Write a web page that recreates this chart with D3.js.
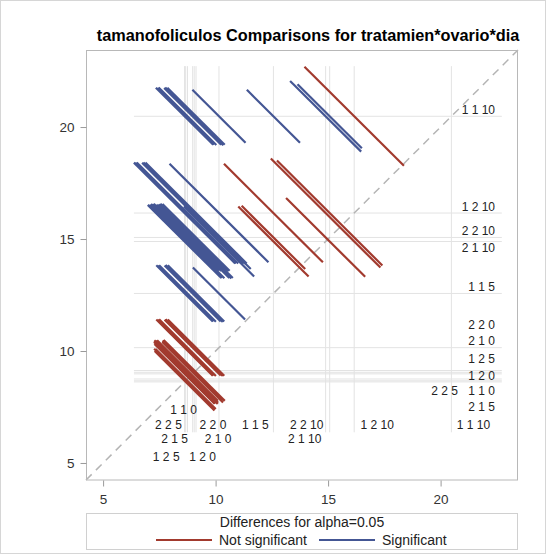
<!DOCTYPE html>
<html>
<head>
<meta charset="utf-8">
<script src="https://cdn.jsdelivr.net/npm/d3@7"></script>
<style>
  body { margin: 0; background: #fff; }
  svg { font-family: "Liberation Sans", Arial, sans-serif; }
</style>
</head>
<body>
<div id="viz"></div>
<script>
// level names (tratamien ovario dia), LS-means and standard errors
const levels = ["1 1 10", "1 2 10", "2 2 10", "2 1 10", "1 1 5", "2 2 0",
                "2 1 0", "1 2 5", "1 2 0", "2 2 5", "1 1 0", "2 1 5"];
const means = [20.48, 16.16, 15.07, 14.89, 12.57, 10.15,
               9.13, 9.05, 8.98, 8.75, 8.67, 8.62];
const stdErrs = [0.85, 2.04, 1.15, 1.33, 0.82, 0.82,
                 0.95, 0.97, 0.94, 0.96, 0.93, 0.95];
const tCrit = 2.0;
const tickValues = [5, 10, 15, 20];

// label placement tweaks (px) to keep labels from piling up
const rightShift = [0, 0, 0, 13, 0, -17, -23, -7, 8, 18, 16, 31];
const rightShiftX = [0, 0, 0, 0, 0, 0, 0, 0, 0, -37, 0, 0];
const bottomRow = [1, 1, 1, 2, 1, 1, 2, 3, 3, 1, 0, 2];
const bottomShift = [22, 23, -23, -21, -18, -6, 22, -28, 10, -19, -2, -10];

const red = "#A23A2E", blue = "#445694";

const svg = d3.select("#viz").append("svg")
    .attr("width", 549)
    .attr("height", 557);

const x = d3.scaleLinear().domain([4.24, 23.44]).range([86, 518]);
const y = d3.scaleLinear().domain([4.24, 23.44]).range([480, 50]);
const gridMin = 6.37, gridMax = 22.72;

// outer border
svg.append("rect")
    .attr("x", 0.5).attr("y", 0.5)
    .attr("width", 545).attr("height", 553)
    .attr("fill", "none").attr("stroke", "#d6d6d6");

// title
svg.append("text")
    .attr("x", 308).attr("y", 41)
    .attr("text-anchor", "middle")
    .attr("font-size", 16.3).attr("font-weight", "bold")
    .text("tamanofoliculos Comparisons for tratamien*ovario*dia");

const plot = svg.append("g");

// reference lines at each mean
plot.selectAll(".vgrid").data(means).join("line")
    .attr("x1", d => x(d)).attr("x2", d => x(d))
    .attr("y1", y(gridMax)).attr("y2", y(gridMin))
    .attr("stroke", "#e3e3e3");
plot.selectAll(".hgrid").data(means).join("line")
    .attr("y1", d => y(d)).attr("y2", d => y(d))
    .attr("x1", x(gridMin)).attr("x2", x(gridMax))
    .attr("stroke", "#e3e3e3");

// diagonal
plot.append("line")
    .attr("x1", x(4.24)).attr("y1", y(4.24))
    .attr("x2", x(23.44)).attr("y2", y(23.44))
    .attr("stroke", "#b4b4b4").attr("stroke-width", 1.5)
    .attr("stroke-dasharray", "8,6");

// pairwise comparison segments
const pairs = [];
for (let i = 0; i < levels.length; i++) {
  for (let j = i + 1; j < levels.length; j++) {
    const lo = Math.min(means[i], means[j]);
    const hi = Math.max(means[i], means[j]);
    const w = tCrit * Math.sqrt(stdErrs[i] ** 2 + stdErrs[j] ** 2);
    pairs.push({lo, hi, w, sig: (hi - lo) > w});
  }
}

plot.selectAll(".pair").data(pairs).join("line")
    .attr("x1", d => x(d.lo - d.w / 2)).attr("y1", d => y(d.hi + d.w / 2))
    .attr("x2", d => x(d.lo + d.w / 2)).attr("y2", d => y(d.hi - d.w / 2))
    .attr("stroke", d => d.sig ? blue : red)
    .attr("stroke-width", 2.2);

// level labels on the right and at the bottom
const rowY = [410, 425, 439, 457];
plot.selectAll(".rlab").data(levels).join("text")
    .attr("x", (d, i) => 495 + rightShiftX[i])
    .attr("y", (d, i) => y(means[i]) - 6 + rightShift[i])
    .attr("text-anchor", "end")
    .attr("dominant-baseline", "central")
    .attr("font-size", 12).attr("fill", "#222")
    .text(d => d);
plot.selectAll(".blab").data(levels).join("text")
    .attr("x", (d, i) => x(means[i]) + bottomShift[i])
    .attr("y", (d, i) => rowY[bottomRow[i]])
    .attr("text-anchor", "middle")
    .attr("dominant-baseline", "central")
    .attr("font-size", 12).attr("fill", "#222")
    .text(d => d);

// frame and axes
svg.append("rect")
    .attr("x", 86.5).attr("y", 50.5)
    .attr("width", 431).attr("height", 429.5)
    .attr("fill", "none").attr("stroke", "#b8b8b8");

const xAxis = svg.append("g")
    .attr("transform", "translate(0,480.5)")
    .call(d3.axisBottom(x).tickValues(tickValues).tickSize(6).tickPadding(8));
const yAxis = svg.append("g")
    .attr("transform", "translate(86.5,0)")
    .call(d3.axisLeft(y).tickValues(tickValues).tickSize(6).tickPadding(6));
[xAxis, yAxis].forEach(g => {
  g.select(".domain").remove();
  g.selectAll("line").attr("stroke", "#9a9a9a");
  g.selectAll("text").attr("font-size", 13.5).attr("fill", "#333")
      .attr("font-family", "Liberation Sans, Arial, sans-serif");
});

// legend
const legend = svg.append("g");
legend.append("rect")
    .attr("x", 86.5).attr("y", 513.5)
    .attr("width", 431).attr("height", 36)
    .attr("fill", "none").attr("stroke", "#d0d0d0");
legend.append("text")
    .attr("x", 302).attr("y", 522)
    .attr("text-anchor", "middle").attr("dominant-baseline", "central")
    .attr("font-size", 14).attr("fill", "#222")
    .text("Differences for alpha=0.05");
const entries = [
  {label: "Not significant", color: red, x0: 156},
  {label: "Significant", color: blue, x0: 319}
];
entries.forEach(e => {
  legend.append("line")
      .attr("x1", e.x0).attr("x2", e.x0 + 56)
      .attr("y1", 540).attr("y2", 540)
      .attr("stroke", e.color).attr("stroke-width", 2);
  legend.append("text")
      .attr("x", e.x0 + 63).attr("y", 540)
      .attr("dominant-baseline", "central")
      .attr("font-size", 14).attr("fill", "#222")
      .text(e.label);
});
</script>
</body>
</html>
